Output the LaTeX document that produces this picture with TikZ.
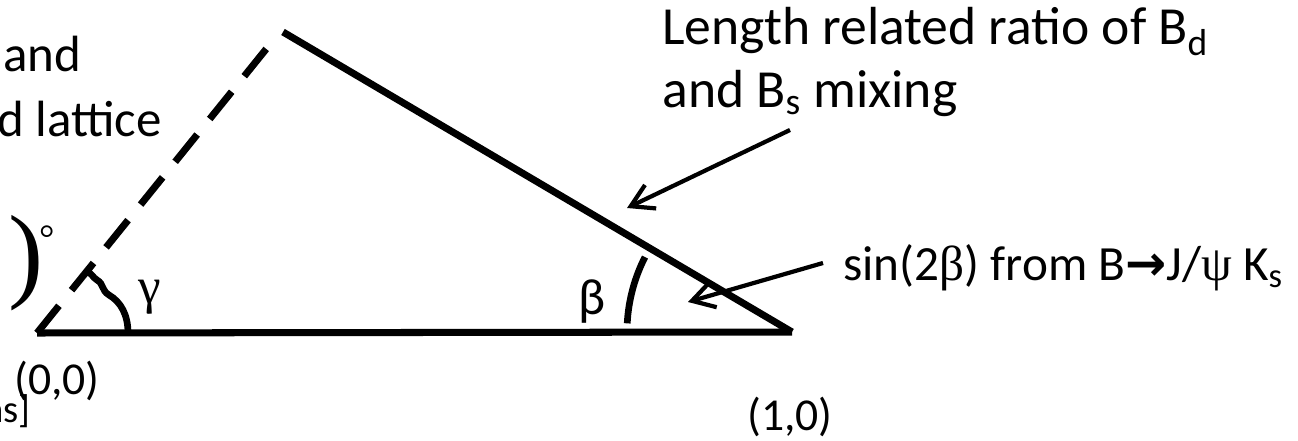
\documentclass[tikz,border=0pt]{standalone}
\usepackage{fontspec}
\setmainfont{Carlito}
\newfontfamily\greekserif{Liberation Serif}
\newfontfamily\arrowfont{DejaVu Sans}
\usepackage{tikz}
\usetikzlibrary{calc, positioning, arrows.meta}

\begin{document}
\begin{tikzpicture}[
  x=0.2mm, y=0.2mm,
  side/.style={line width=4pt},
  angarc/.style={line width=3.8pt},
  pointer/.style={-{Straight Barb[length=4.4mm, width=5.2mm]}, line width=2.4pt},
  lbl/.style={inner sep=0pt, font=\fontsize{28}{36}\selectfont},
  big/.style={inner sep=0pt, font=\fontsize{30.5}{38}\selectfont},
  coord/.style={inner sep=0pt, font=\fontsize{26}{32}\selectfont}
]
  \useasboundingbox (0,0) rectangle (1298,441);

  \coordinate (O)    at (37,108);
  \coordinate (R)    at (792,109);
  \coordinate (A)    at (283,409);
  \coordinate (Aend) at (267,393);

  \draw[side] (O) -- (R);
  \draw[side] (A) -- (R);
  \draw[side, dash pattern=on 7mm off 4mm] (O) -- (Aend);

  \draw[angarc] (128,108) .. controls (128,126) and (121,139) .. (109,146)
    .. controls (101,151) and (104,157) .. (97,161)
    .. controls (92,164) and (93,167) .. (87,169);
  \draw[angarc] ($(R)+(177:165)$) arc[start angle=177, end angle=153, radius=165];

  \node[lbl, font=\fontsize{29}{36}\greekserif] (gam) at (150,144) {γ};
  \node[lbl, font=\fontsize{29}{36}\selectfont] (bet) at (592,139) {β};

  \node[coord] (orig) at (57,60) {(0,0)};
  \node[coord] (one)  at (790,24) {(1,0)};
  \node[inner sep=0pt, font=\fontsize{22}{26}\selectfont, anchor=base east] (unit) at (31,18) {ns]};

  \node[big, font=\fontsize{29}{36}\selectfont, anchor=base west] (gl1) at (3,369) {and};
  \node[big, font=\fontsize{29}{36}\selectfont, anchor=base west] (gl2) at (-3,304) {d lattice};
  \node[inner sep=0pt, font=\fontsize{60}{68}\greekserif, anchor=base west] (deg) at (8,152.5)
    {)\hspace{-0.8mm}\raisebox{21pt}{\fontsize{22}{26}\selectfont °}};

  \node[big, anchor=base west] (rl1) at (662,396) {Length related ratio of B\textsubscript{d}};
  \node[big, anchor=base west] (rl2) at (662,333) {and B\textsubscript{s} mixing};

  \node[lbl, anchor=base west] (sinb) at (843,160)
    {sin(2{\greekserif β}) from B{\arrowfont\bfseries →}J/{\greekserif ψ} K\textsubscript{s}};

  \coordinate (ratiofrom) at (790,311);
  \coordinate (ratiotip)  at (627,233);
  \coordinate (sinfrom)   at (823,178);
  \coordinate (sintip)    at (688,139);
  \draw[pointer] (ratiofrom) -- (ratiotip);
  \draw[pointer] (sinfrom) -- (sintip);
\end{tikzpicture}
\end{document}
